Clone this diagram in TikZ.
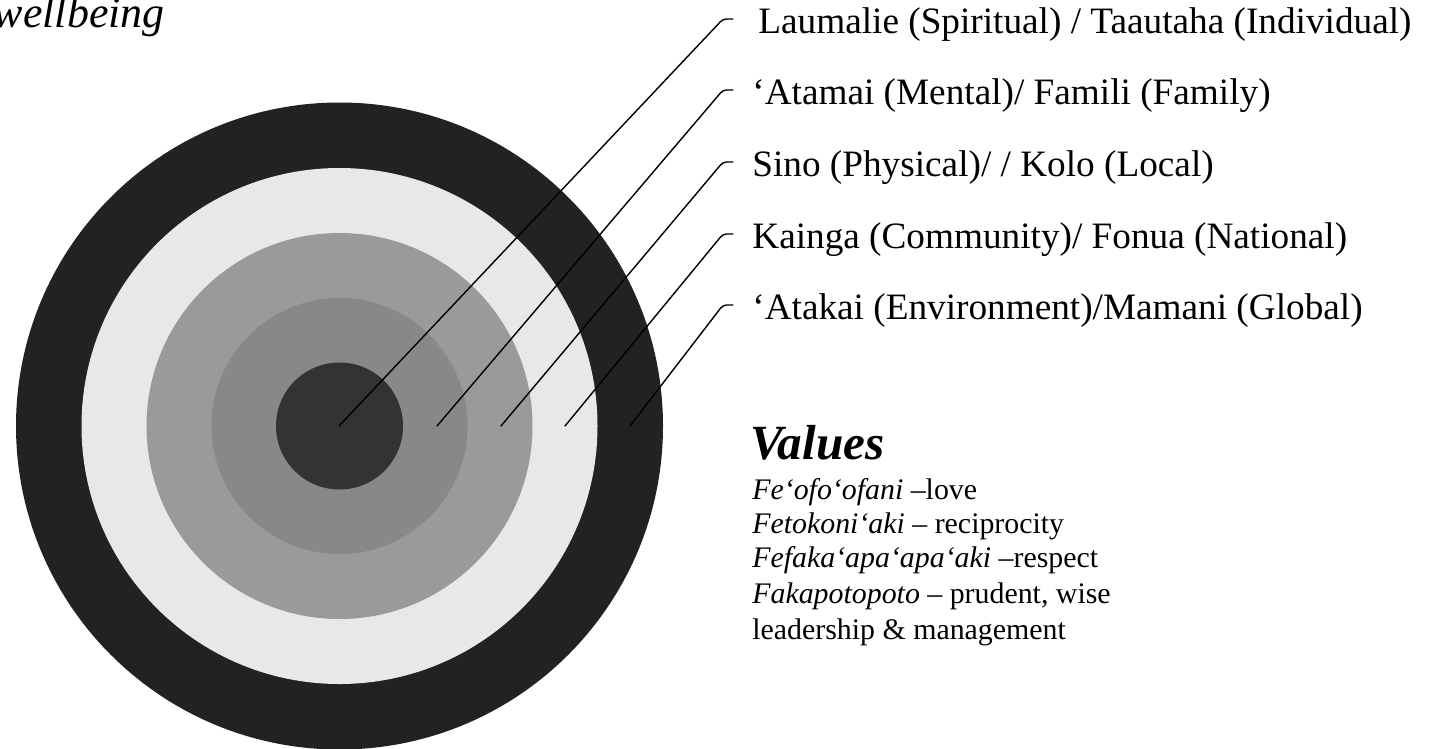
\documentclass[tikz,border=0pt]{standalone}
\usepackage{fontspec}
\setmainfont{Liberation Serif}
\definecolor{ringcore}{HTML}{333333}
\definecolor{ringtwo}{HTML}{888888}
\definecolor{ringthree}{HTML}{9A9A9A}
\definecolor{ringfour}{HTML}{E8E8E8}
\definecolor{ringfive}{HTML}{222222}
\begin{document}
\begin{tikzpicture}[x=0.02cm,y=-0.02cm,line join=round,line cap=round,
	lbl/.style={anchor=base west,inner sep=0pt,font=\fontsize{21.2}{25}\selectfont},
	val/.style={anchor=base west,inner sep=0pt,font=\fontsize{17}{20}\selectfont}]
	\useasboundingbox (0,0) rectangle (1434,748);
	\node[anchor=base east,inner sep=0pt,font=\fontsize{25}{30}\selectfont\itshape] (ttl) at (165,27) {wellbeing};
	% rings
	\coordinate (O) at (339.5,426);
	\fill[ringfive] (O) circle (323.5);
	\fill[ringfour] (O) circle (258);
	\fill[ringthree] (O) circle (193);
	\fill[ringtwo] (O) circle (128);
	\fill[ringcore] (O) circle (63.5);
	% leader lines
	\foreach \n/\x in {1/339,2/437,3/501,4/565,5/630}
		\coordinate (p\n) at (\x,426);
	\foreach \n/\y in {1/19,2/90,3/162,4/234,5/305}{
		\coordinate (k\n) at (723,\y);
		\coordinate (e\n) at (733,\y);}
	\foreach \n in {1,...,5}
		\draw[line width=0.8pt,rounded corners=2pt] (p\n)--(k\n)--(e\n);
	% labels
	\node[lbl] (l1) at (758,33) {Laumalie (Spiritual) / Taautaha (Individual)};
	\node[lbl] (l2) at (752,104) {‘Atamai (Mental)/ Famili (Family)};
	\node[lbl] (l3) at (752,176) {Sino (Physical)/ / Kolo (Local)};
	\node[lbl] (l4) at (752,248) {Kainga (Community)/ Fonua (National)};
	\node[lbl] (l5) at (752,319) {‘Atakai (Environment)/Mamani (Global)};
	% values
	\node[lbl,font=\fontsize{28}{33}\selectfont\bfseries\itshape] (vh) at (750,459) {Values};
	\node[val] (v1) at (752,499) {\textit{Fe‘ofo‘ofani} –love};
	\node[val] (v2) at (752,533) {\textit{Fetokoni‘aki} – reciprocity};
	\node[val] (v3) at (752,567) {\textit{Fefaka‘apa‘apa‘aki} –respect};
	\node[val] (v4) at (752,603) {\textit{Fakapotopoto} – prudent, wise};
	\node[val] (v5) at (752,639) {leadership \& management};
\end{tikzpicture}
\end{document}
